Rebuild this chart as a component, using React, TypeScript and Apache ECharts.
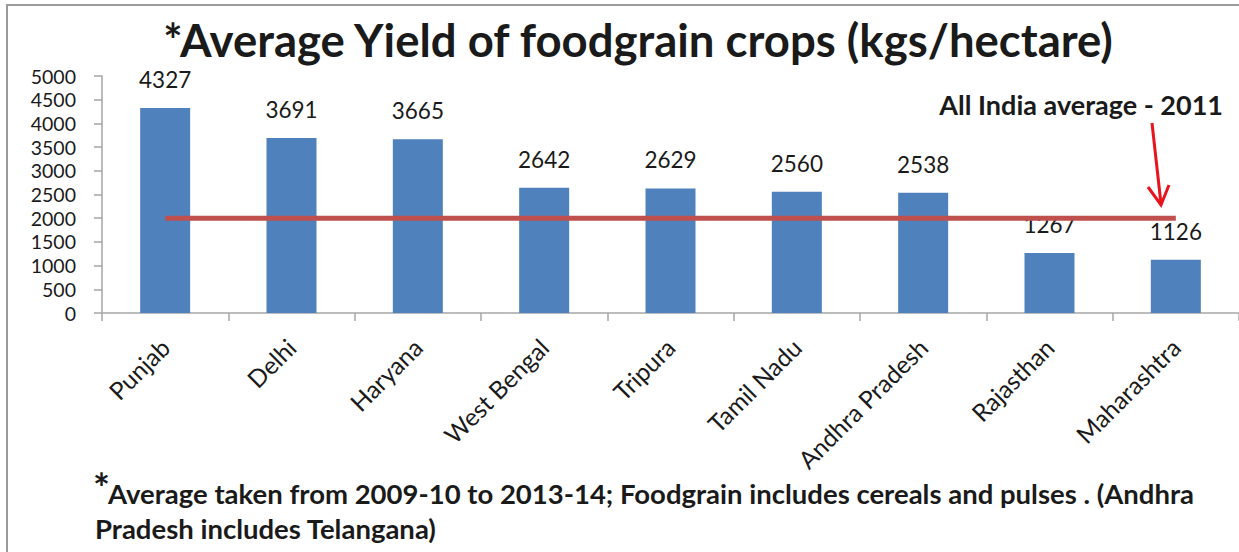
import React, { useEffect, useRef } from "react";
import * as echarts from "echarts";

const states = ["Punjab", "Delhi", "Haryana", "West Bengal", "Tripura", "Tamil Nadu", "Andhra Pradesh", "Rajasthan", "Maharashtra"];
const yieldValues = [4327, 3691, 3665, 2642, 2629, 2560, 2538, 1267, 1126];
const allIndiaAverage = [2000, 2000, 2000, 2000, 2000, 2000, 2000, 2000, 2000];

const titleText = "*Average Yield of foodgrain crops (kgs/hectare)";
const annotationText = "All India average - 2011";
const footLine1 = "Average taken from 2009-10 to 2013-14; Foodgrain includes cereals and pulses . (Andhra";
const footLine2 = "Pradesh includes Telangana)";

const FONT = "Lato, 'Open Sans', sans-serif";

export default function App() {
  const ref = useRef<HTMLDivElement>(null);
  useEffect(() => {
    if (!ref.current) return;
    const chart = echarts.init(ref.current, null, { renderer: "svg" });
    chart.setOption({
      animation: false,
      backgroundColor: "#ffffff",
      grid: { left: 102, top: 76, width: 1138.5, height: 237, containLabel: false },
      xAxis: {
        type: "category",
        data: states,
        boundaryGap: true,
        axisLine: { lineStyle: { color: "#A6A6A6", width: 1.5 } },
        axisTick: { show: true, length: 8, lineStyle: { color: "#A6A6A6", width: 1.5 } },
        axisLabel: { rotate: 45, margin: 30, fontSize: 24.5, color: "#1a1a1a", fontFamily: FONT, interval: 0 },
      },
      yAxis: {
        type: "value",
        min: 0,
        max: 5000,
        interval: 500,
        splitLine: { show: false },
        axisLine: { show: true, lineStyle: { color: "#A6A6A6", width: 1.5 } },
        axisTick: { show: true, inside: false, length: 8, lineStyle: { color: "#A6A6A6", width: 1.5 } },
        axisLabel: { fontSize: 19.5, lineHeight: 20, color: "#1a1a1a", fontFamily: FONT, margin: 26, formatter: (v: number) => String(v) },
      },
      series: [
        {
          type: "bar",
          data: yieldValues,
          barWidth: 50,
          itemStyle: { color: "#4F81BD" },
          label: { show: true, position: "top", distance: 17, fontSize: 22.5, color: "#1a1a1a", fontFamily: FONT },
        },
        {
          type: "line",
          data: allIndiaAverage,
          symbol: "none",
          lineStyle: { color: "#C0504D", width: 5 },
          z: 5,
        },
      ],
      graphic: [
        {
          type: "rect",
          shape: { x: 7, y: 5, width: 1250, height: 560 },
          style: { fill: "none", stroke: "#9a9a9a", lineWidth: 2 },
          silent: true,
        },
        {
          type: "text",
          x: 638,
          y: 39,
          style: { text: titleText, fontSize: 45.5, fontWeight: "bold", fill: "#1a1a1a", fontFamily: FONT, align: "center", verticalAlign: "middle" },
        },
        {
          type: "text",
          x: 1223,
          y: 104,
          style: { text: annotationText, fontSize: 27, fontWeight: "bold", fill: "#1a1a1a", fontFamily: FONT, align: "right", verticalAlign: "middle" },
        },
        {
          type: "line",
          shape: { x1: 1152, y1: 123, x2: 1161, y2: 204 },
          style: { stroke: "#E8141C", lineWidth: 3 },
        },
        {
          type: "polyline",
          shape: { points: [[1148, 187], [1161, 205], [1169, 185]] },
          style: { stroke: "#E8141C", lineWidth: 3, fill: "none" },
        },
        {
          type: "text",
          x: 93,
          y: 488,
          style: { text: "*", fontSize: 40, fontWeight: "bold", fill: "#1a1a1a", fontFamily: FONT, align: "left", verticalAlign: "middle" },
        },
        {
          type: "text",
          x: 108,
          y: 493,
          style: { text: footLine1, fontSize: 27.5, fontWeight: "bold", fill: "#1a1a1a", fontFamily: FONT, align: "left", verticalAlign: "middle" },
        },
        {
          type: "text",
          x: 95,
          y: 528,
          style: { text: footLine2, fontSize: 27.5, fontWeight: "bold", fill: "#1a1a1a", fontFamily: FONT, align: "left", verticalAlign: "middle" },
        },
      ],
    });
    return () => chart.dispose();
  }, []);
  return <div ref={ref} style={{ position: "absolute", left: 0, top: 0, width: 1239, height: 552 }} />;
}
